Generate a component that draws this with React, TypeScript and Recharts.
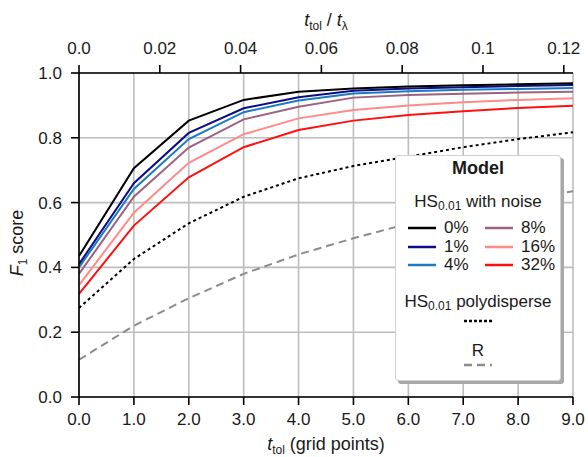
import React from 'react';
import { LineChart, Line, XAxis, YAxis, CartesianGrid } from 'recharts';

// tolerance in grid points
const tol = [0, 1, 2, 3, 4, 5, 6, 7, 8, 9];

// F1 score for HS_0.01 at each noise level
const noise0 = [0.435, 0.706, 0.853, 0.917, 0.942, 0.952, 0.958, 0.962, 0.965, 0.968];
const noise1 = [0.41, 0.66, 0.815, 0.891, 0.925, 0.945, 0.952, 0.956, 0.96, 0.963];
const noise4 = [0.4, 0.642, 0.796, 0.879, 0.915, 0.937, 0.944, 0.948, 0.951, 0.954];
const noise8 = [0.38, 0.618, 0.77, 0.857, 0.896, 0.924, 0.932, 0.936, 0.94, 0.942];
const noise16 = [0.345, 0.569, 0.723, 0.811, 0.86, 0.886, 0.9, 0.91, 0.917, 0.922];
const noise32 = [0.318, 0.529, 0.678, 0.771, 0.824, 0.853, 0.87, 0.882, 0.892, 0.899];
const polydisperse = [0.275, 0.426, 0.536, 0.618, 0.675, 0.713, 0.742, 0.771, 0.796, 0.817];
const modelR = [0.115, 0.22, 0.305, 0.38, 0.44, 0.49, 0.535, 0.57, 0.605, 0.635];

const bottomTicks = [0, 1, 2, 3, 4, 5, 6, 7, 8, 9];
const topTicks = [0, 0.02, 0.04, 0.06, 0.08, 0.1, 0.12];
const yTicks = [0, 0.2, 0.4, 0.6, 0.8, 1.0];
// decay length t_lambda in grid points
const tLambda = 73.6;

const noiseSeries = [
  { key: 'n0', label: '0%', color: '#000000', values: noise0 },
  { key: 'n1', label: '1%', color: '#0d0d85', values: noise1 },
  { key: 'n4', label: '4%', color: '#1a7ac4', values: noise4 },
  { key: 'n8', label: '8%', color: '#9c6283', values: noise8 },
  { key: 'n16', label: '16%', color: '#ff8a8a', values: noise16 },
  { key: 'n32', label: '32%', color: '#ff1010', values: noise32 },
];

const data = tol.map((t, i) => {
  const row: Record<string, number> = { t, ratio: t / tLambda, poly: polydisperse[i], r: modelR[i] };
  noiseSeries.forEach((s) => {
    row[s.key] = s.values[i];
  });
  return row;
});

const FONT = '"Liberation Sans", Arial, sans-serif';
const tickStyle = { fontSize: 17, fill: '#1a1a1a', fontFamily: FONT };
const axisStroke = { stroke: '#000', strokeWidth: 1.6 };

const TopTitle = ({ viewBox }: any) => {
  const cx = viewBox.x + viewBox.width / 2;
  return (
    <text x={cx} y={26} textAnchor="middle" fontFamily={FONT} fontSize={18} fill="#1a1a1a">
      <tspan fontStyle="italic">t</tspan>
      <tspan fontSize={12} dy={4}>tol</tspan>
      <tspan dy={-4}> / </tspan>
      <tspan fontStyle="italic">t</tspan>
      <tspan fontSize={12} dy={4}>λ</tspan>
    </text>
  );
};

const BottomTitle = ({ viewBox }: any) => {
  const cx = viewBox.x + viewBox.width / 2;
  return (
    <text x={cx} y={450} textAnchor="middle" fontFamily={FONT} fontSize={18} fill="#1a1a1a">
      <tspan fontStyle="italic">t</tspan>
      <tspan fontSize={12} dy={4}>tol</tspan>
      <tspan dy={-4}> (grid points)</tspan>
    </text>
  );
};

const LeftTitle = () => (
  <text
    x={23}
    y={243}
    transform="rotate(-90, 23, 243)"
    textAnchor="middle"
    fontFamily={FONT}
    fontSize={18}
    fill="#1a1a1a"
  >
    <tspan fontStyle="italic">F</tspan>
    <tspan fontSize={12} dy={4}>1</tspan>
    <tspan dy={-4}> score</tspan>
  </text>
);

const Sample = ({ color, dash }: { color: string; dash?: string }) => (
  <svg width={28} height={6} style={{ display: 'block' }}>
    <line x1={0} y1={3} x2={28} y2={3} stroke={color} strokeWidth={2.5} strokeDasharray={dash} />
  </svg>
);

const HS = () => (
  <span>
    HS<sub style={{ fontSize: 12, verticalAlign: -3, lineHeight: 0 }}>0.01</sub>
  </span>
);

const ModelLegend = () => {
  const left = noiseSeries.slice(0, 3);
  const right = noiseSeries.slice(3);
  const entry = (s: typeof noiseSeries[number]) => (
    <div key={s.key} style={{ display: 'flex', alignItems: 'center', height: 18.5 }}>
      <Sample color={s.color} />
      <span style={{ marginLeft: 8 }}>{s.label}</span>
    </div>
  );
  return (
    <div
      style={{
        position: 'absolute',
        left: 395,
        top: 155,
        width: 166,
        height: 226,
        background: '#fff',
        border: '1px solid #d0d0d0',
        borderRadius: 3,
        boxShadow: '3px 3px 0 #a8a8a8',
        fontFamily: FONT,
        fontSize: 17,
        lineHeight: '20px',
        color: '#1a1a1a',
        boxSizing: 'border-box',
      }}
    >
      <div style={{ textAlign: 'center', fontWeight: 'bold', fontSize: 18, marginTop: 2 }}>Model</div>
      <div style={{ textAlign: 'center', marginTop: 14 }}>
        <HS /> with noise
      </div>
      <div style={{ display: 'flex', marginTop: 7, paddingLeft: 12 }}>
        <div style={{ width: 77 }}>{left.map(entry)}</div>
        <div>{right.map(entry)}</div>
      </div>
      <div style={{ textAlign: 'center', marginTop: 17 }}>
        <HS /> polydisperse
      </div>
      <div style={{ display: 'flex', justifyContent: 'center', marginTop: 6 }}>
        <Sample color="#000" dash="3 2" />
      </div>
      <div style={{ textAlign: 'center', marginTop: 17 }}>R</div>
      <div style={{ display: 'flex', justifyContent: 'center', marginTop: 1 }}>
        <Sample color="#8c8c8c" dash="8 5" />
      </div>
    </div>
  );
};

export default function App() {
  return (
    <div style={{ position: 'absolute', left: 0, top: 0, width: 588, height: 457, background: '#fff' }}>
      <LineChart width={588} height={457} data={data} margin={{ top: 0, right: 15, bottom: 0, left: 0 }}>
        <CartesianGrid xAxisId="bottom" yAxisId="left" stroke="#bdbdbd" strokeWidth={1.6} />
        <XAxis
          xAxisId="bottom"
          dataKey="t"
          type="number"
          domain={[0, 9]}
          ticks={bottomTicks}
          interval={0}
          tickFormatter={(v: number) => v.toFixed(1)}
          height={60}
          tick={tickStyle}
          tickSize={8}
          tickMargin={8}
          axisLine={axisStroke}
          tickLine={axisStroke}
          label={{ content: BottomTitle }}
        />
        <XAxis
          xAxisId="top"
          dataKey="ratio"
          orientation="top"
          type="number"
          domain={[0, 9 / tLambda]}
          allowDataOverflow
          ticks={topTicks}
          interval={0}
          tickFormatter={(v: number) => (v === 0 ? '0.0' : v === 0.1 ? '0.1' : v.toFixed(2))}
          height={73}
          tick={tickStyle}
          tickSize={8}
          tickMargin={11}
          axisLine={axisStroke}
          tickLine={axisStroke}
          label={{ content: TopTitle }}
        />
        <YAxis
          yAxisId="left"
          type="number"
          domain={[0, 1]}
          ticks={yTicks}
          interval={0}
          tickFormatter={(v: number) => v.toFixed(1)}
          width={79}
          tick={tickStyle}
          tickSize={8}
          tickMargin={9}
          axisLine={axisStroke}
          tickLine={axisStroke}
          label={{ content: LeftTitle }}
        />
        <YAxis
          yAxisId="right"
          orientation="right"
          type="number"
          domain={[0, 1]}
          width={0}
          tick={false}
          tickLine={false}
          axisLine={axisStroke}
        />
        {/* invisible series that gives the top axis its scale */}
        <Line xAxisId="top" yAxisId="right" dataKey="n0" stroke="none" dot={false} isAnimationActive={false} />
        <Line xAxisId="bottom" yAxisId="left" dataKey="r" stroke="#8c8c8c" strokeWidth={2} strokeDasharray="8 5" dot={false} isAnimationActive={false} />
        <Line xAxisId="bottom" yAxisId="left" dataKey="poly" stroke="#000" strokeWidth={2} strokeDasharray="3 3" dot={false} isAnimationActive={false} />
        {noiseSeries
          .slice()
          .reverse()
          .map((s) => (
            <Line
              key={s.key}
              xAxisId="bottom"
              yAxisId="left"
              dataKey={s.key}
              stroke={s.color}
              strokeWidth={2}
              dot={false}
              isAnimationActive={false}
            />
          ))}
      </LineChart>
      <ModelLegend />
    </div>
  );
}
